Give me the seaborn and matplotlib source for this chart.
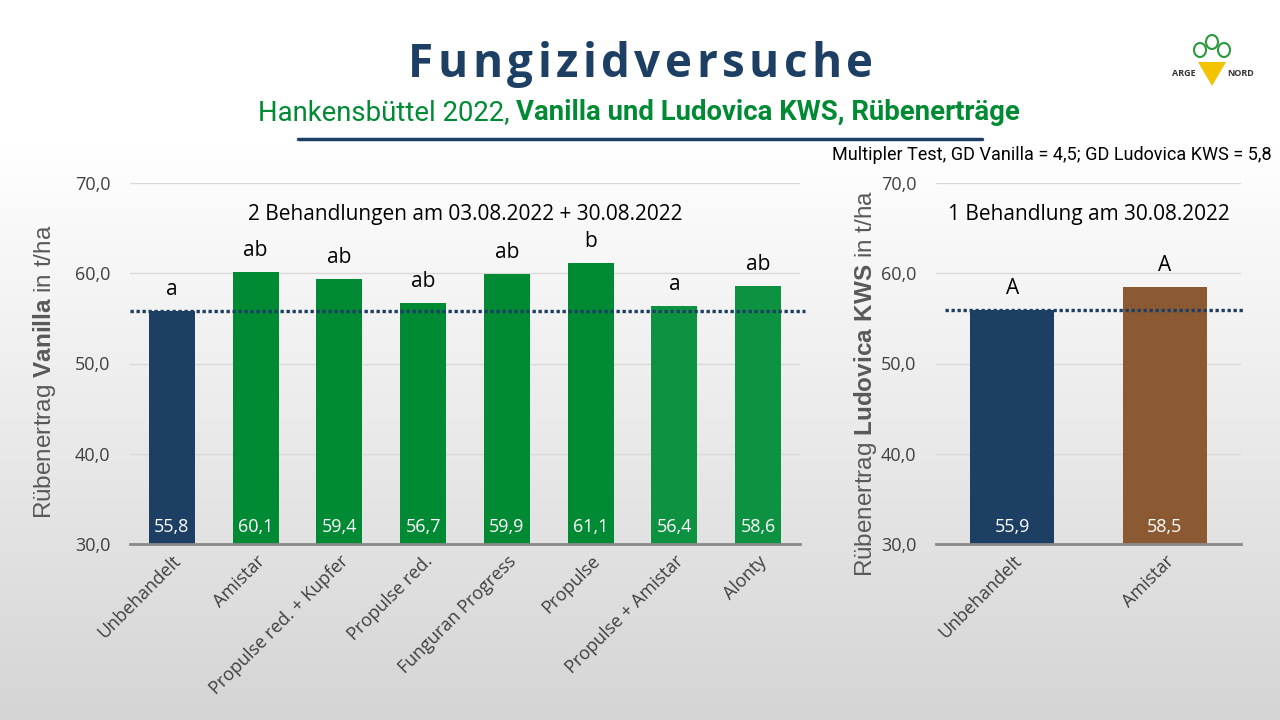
import matplotlib.pyplot as plt
import numpy as np
import pandas as pd
import seaborn as sns
from matplotlib.colors import LinearSegmentedColormap
from matplotlib.patches import Polygon, Ellipse
from matplotlib.text import Annotation

# data: Vanilla (2 Behandlungen)
vanilla_names = ["Unbehandelt", "Amistar", "Propulse red. + Kupfer", "Propulse red.",
                 "Funguran Progress", "Propulse", "Propulse + Amistar", "Alonty"]
vanilla_yield = [55.8, 60.1, 59.4, 56.7, 59.9, 61.1, 56.4, 58.6]
vanilla_letters = ["a", "ab", "ab", "ab", "ab", "b", "a", "ab"]

# data: Ludovica KWS (1 Behandlung)
ludovica_names = ["Unbehandelt", "Amistar"]
ludovica_yield = [55.9, 58.5]
ludovica_letters = ["A", "A"]

DARK_BLUE = "#1d3f64"
GREEN = "#008a33"
LIGHT_GREEN = "#0c9240"
BROWN = "#8b5a32"
TEXT = "#404040"

vanilla_colors = [DARK_BLUE] + [GREEN] * 5 + [LIGHT_GREEN] * 2
ludovica_colors = [DARK_BLUE, BROWN]

sns.set_theme(style="whitegrid")
plt.rcParams["font.family"] = ["Open Sans", "DejaVu Sans"]
plt.rcParams["mathtext.fontset"] = "custom"
plt.rcParams["mathtext.rm"] = "Liberation Sans"
plt.rcParams["mathtext.bf"] = "Liberation Sans:bold"
plt.rcParams["text.color"] = TEXT

fig = plt.figure(figsize=(12.8, 7.2), dpi=100)

# background gradient, white on top, grey at the bottom
bg = fig.add_axes([0, 0, 1, 1], zorder=-10)
bg_cmap = LinearSegmentedColormap.from_list("bg", ["#ffffff", "#d5d5d5"])
grad = np.clip((np.linspace(0, 1, 256) - 0.2) / 0.8, 0, 1)
bg.imshow(grad[:, None], aspect="auto", cmap=bg_cmap, extent=[0, 1, 0, 1],
          origin="upper", vmin=0, vmax=1)
bg.set_axis_off()


def draw_panel(ax, names, values, letters, colors, header, ylabel, label_xy):
    df = pd.DataFrame({"name": names, "value": values})
    sns.barplot(data=df, x="name", y="value", hue="name", palette=dict(zip(names, colors)),
                width=0.55, saturation=1, legend=False, linewidth=0, ax=ax, zorder=2)
    ax.set_facecolor("none")
    ax.set_ylim(30, 70)
    ax.set_yticks([30, 40, 50, 60, 70])
    ax.set_yticklabels([f"{t:.1f}".replace(".", ",") for t in ax.get_yticks()], fontsize=13, color=TEXT)
    ax.set_xlim(-0.5, len(names) - 0.5)
    ax.tick_params(axis="x", labelsize=13, labelcolor=TEXT, length=0, pad=6)
    ax.tick_params(axis="y", length=0, pad=14)
    plt.setp(ax.get_xticklabels(), rotation=45, ha="right", rotation_mode="anchor")
    ax.set_xlabel("")
    ax.set_ylabel(ylabel, fontsize=17.5, color="#595959", family="Liberation Sans")
    ax.yaxis.set_label_coords(*label_xy)
    ax.grid(axis="y", color="#d9d9d9", linewidth=1)
    ax.grid(axis="x", visible=False)
    for side in ["top", "right", "left"]:
        ax.spines[side].set_visible(False)
    ax.spines["bottom"].set_color("#898989")
    ax.spines["bottom"].set_linewidth(2)

    for i, (v, lab) in enumerate(zip(values, letters)):
        ax.text(i, 31.9, f"{v:.1f}".replace(".", ","), ha="center", va="center",
                color="white", fontsize=13, zorder=3)
        ax.annotate(lab, xy=(i, v), xytext=(0, 8), textcoords="offset points",
                    ha="center", va="bottom", fontsize=15, color="black")
    ax.text(0.5, 0.913, header, transform=ax.transAxes, ha="center", va="center",
            fontsize=15, color="black")


ax1 = fig.add_axes([130 / 1280, 1 - 544 / 720, 670 / 1280, 361 / 720])
draw_panel(ax1, vanilla_names, vanilla_yield, vanilla_letters, vanilla_colors,
           "2 Behandlungen am 03.08.2022 + 30.08.2022",
           r"Rübenertrag $\mathbf{Vanilla}$ in t/ha", (-0.107, 0.476))
ax1.axhline(vanilla_yield[0], xmin=0, xmax=1.008, color=DARK_BLUE, linewidth=2.4,
            linestyle=(0, (1, 0.8)), clip_on=False, zorder=4)

ax2 = fig.add_axes([936 / 1280, 1 - 544 / 720, 305 / 1280, 361 / 720])
draw_panel(ax2, ludovica_names, ludovica_yield, ludovica_letters, ludovica_colors,
           "1 Behandlung am 30.08.2022",
           r"Rübenertrag $\mathbf{Ludovica\ KWS}$ in t/ha", (-0.187, 0.446))
ax2.axhline(ludovica_yield[0], xmin=0.03, xmax=1.007, color=DARK_BLUE, linewidth=2.4,
            linestyle=(0, (1, 0.8)), clip_on=False, zorder=4)

# title block, letter-spaced title drawn char by char
title = "Fungizidversuche"
prev = fig.text(408 / 1280, 1 - 88 / 720, title[0], ha="left", va="bottom", fontsize=33,
                fontweight="bold", color=DARK_BLUE)
for ch in title[1:]:
    prev = fig.add_artist(Annotation(ch, xy=(1, 0), xycoords=prev, xytext=(3.2, 0),
                                     textcoords="offset points", ha="left", va="bottom",
                                     fontsize=33, fontweight="bold", color=DARK_BLUE))

narrow = ["Liberation Sans Narrow", "Roboto", "DejaVu Sans"]
sub1 = fig.text(258 / 1280, 1 - 113 / 720, "Hankensbüttel 2022, ", ha="left", va="center",
                fontsize=19.8, color=GREEN, family=narrow)
fig.add_artist(Annotation(
    "Vanilla und Ludovica KWS, Rübenerträge", xy=(1, 0.5), xycoords=sub1, ha="left", va="center",
    fontsize=19.8, fontweight="bold", color=GREEN, family=narrow))
fig.add_artist(plt.Line2D([298 / 1280, 982 / 1280], [1 - 139 / 720] * 2, color=DARK_BLUE, linewidth=2.5))
fig.text(1272 / 1280, 1 - 155 / 720, "Multipler Test, GD Vanilla = 4,5; GD Ludovica KWS = 5,8",
         ha="right", va="center", fontsize=13, color="black", family=narrow)

# small logo
fig.patches.append(Polygon([[1198 / 1280, 1 - 62 / 720], [1226 / 1280, 1 - 62 / 720], [1212 / 1280, 1 - 86 / 720]],
                           closed=True, transform=fig.transFigure, facecolor="#f3c300", edgecolor="none"))
for cx, cy in [(1200, 50), (1212, 42), (1224, 50)]:
    fig.patches.append(Ellipse((cx / 1280, 1 - cy / 720), 12 / 1280, 14 / 720, transform=fig.transFigure,
                               facecolor="none", edgecolor="#2a9a3a", linewidth=1.5))
fig.text(1184 / 1280, 1 - 73 / 720, "ARGE", ha="center", va="center", fontsize=6.5,
         fontweight="bold", color="#333333")
fig.text(1241 / 1280, 1 - 73 / 720, "NORD", ha="center", va="center", fontsize=6.5,
         fontweight="bold", color="#333333")

fig.savefig("out.png", dpi=100)
